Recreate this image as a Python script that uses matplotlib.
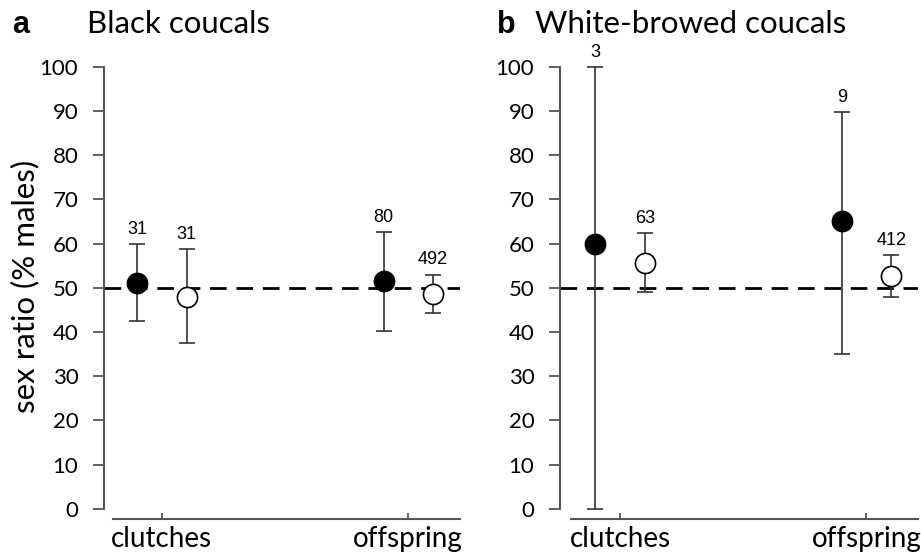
import numpy as np
import matplotlib
matplotlib.use("Agg")
import matplotlib.pyplot as plt

plt.rcParams['font.family'] = ['Lato', 'DejaVu Sans']

categories = ["clutches", "offspring"]

# panel a: black coucals
black_mean = [51.2, 51.6]
black_lo = [42.5, 40.3]
black_hi = [59.9, 62.7]
black_n = [31, 80]
black_open_mean = [48.0, 48.6]
black_open_lo = [37.6, 44.3]
black_open_hi = [58.7, 53.0]
black_open_n = [31, 492]

# panel b: white-browed coucals
wb_mean = [60.0, 65.2]
wb_lo = [0.0, 35.1]
wb_hi = [100.0, 89.7]
wb_n = [3, 9]
wb_open_mean = [55.6, 52.8]
wb_open_lo = [49.0, 47.9]
wb_open_hi = [62.4, 57.5]
wb_open_n = [63, 412]

yticks = list(range(0, 101, 10))

fig = plt.figure(figsize=(9.21, 5.6), dpi=100)
ax1 = fig.add_axes([0.1129, 0.0732, 0.3865, 0.831])
ax2 = fig.add_axes([0.608, 0.0732, 0.389, 0.831])

spine_col = "#555555"
err_col = "#333333"


def draw_series(ax, xs, mean, lo, hi, n, face):
    mean = np.array(mean)
    yerr = [mean - np.array(lo), np.array(hi) - mean]
    ax.errorbar(xs, mean, yerr=yerr, fmt="o", ms=14.5, mfc=face, mec="black",
                mew=1.2, ecolor=err_col, elinewidth=1.2, capsize=6,
                capthick=1.2, zorder=3)
    for x, h, k in zip(xs, hi, n):
        ax.text(x, h + 1.4, str(k), ha="center", va="bottom", fontsize=13,
                family=["Liberation Sans", "DejaVu Sans"])


def setup(ax, left, letter, title, data):
    pos = np.arange(1, len(categories) + 1)
    (m1, l1, h1, n1), (m2, l2, h2, n2) = data
    draw_series(ax, pos - 0.1, m1, l1, h1, n1, "black")
    draw_series(ax, pos + 0.1, m2, l2, h2, n2, "white")
    ax.plot([left, 2.21], [50, 50], color="black", lw=2,
            dashes=(6, 3.5), zorder=2)
    ax.set_xlim(left, 2.21)
    ax.set_ylim(-2.3, 103)
    ax.set_yticks(yticks)
    ax.set_xticks(pos)
    ax.set_xticklabels(categories, fontsize=20)
    ax.tick_params(axis="y", labelsize=16, length=8, width=1.3, color=spine_col, pad=10.5)
    ax.tick_params(axis="x", direction="in", length=4, width=1.3, color=spine_col, pad=5)
    for s in ["top", "right"]:
        ax.spines[s].set_visible(False)
    ax.spines["left"].set_bounds(0, 100)
    ax.spines["bottom"].set_bounds(0.8, 2.21)
    for s in ["left", "bottom"]:
        ax.spines[s].set_color(spine_col)
        ax.spines[s].set_linewidth(1.5)


setup(ax1, 0.765, "a", "Black coucals",
      [(black_mean, black_lo, black_hi, black_n),
       (black_open_mean, black_open_lo, black_open_hi, black_open_n)])
setup(ax2, 0.756, "b", "White-browed coucals",
      [(wb_mean, wb_lo, wb_hi, wb_n),
       (wb_open_mean, wb_open_lo, wb_open_hi, wb_open_n)])

ax1.set_ylabel("sex ratio (% males)", fontsize=22.5, labelpad=0)

# panel letters and titles
base = 1 - 33 / 560
fig.text(12 / 921, base, "a", fontsize=22, fontweight="bold", va="baseline",
         family=["Liberation Sans", "DejaVu Sans"])
fig.text(87 / 921, base, "Black coucals", fontsize=22.5, va="baseline")
fig.text(497 / 921, base, "b", fontsize=22, fontweight="bold", va="baseline",
         family=["Liberation Sans", "DejaVu Sans"])
fig.text(535 / 921, base, "White-browed coucals", fontsize=22.5, va="baseline")

fig.savefig("out.png", dpi=100)
